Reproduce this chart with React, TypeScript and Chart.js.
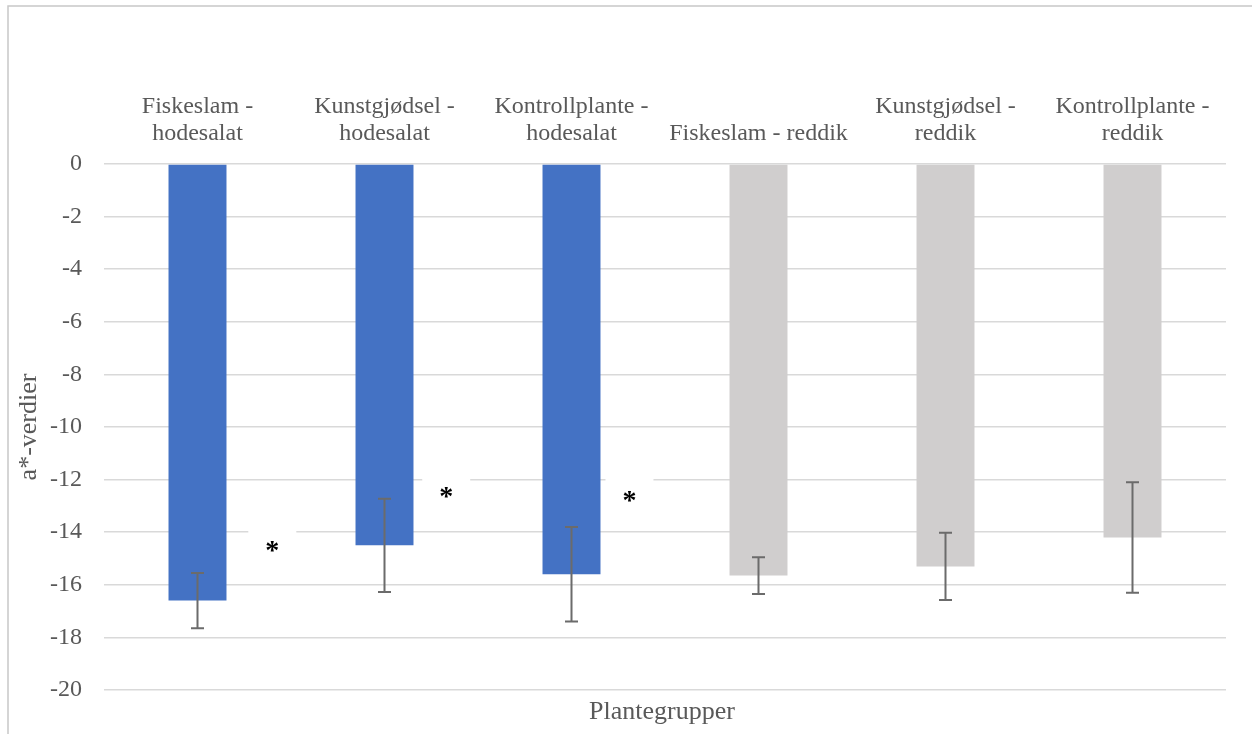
import React, { useEffect, useRef } from "react";
import { Chart, registerables } from "chart.js";

Chart.register(...registerables);

const categories: string[][] = [
  ["Fiskeslam -", "hodesalat"],
  ["Kunstgjødsel -", "hodesalat"],
  ["Kontrollplante -", "hodesalat"],
  ["Fiskeslam - reddik"],
  ["Kunstgjødsel -", "reddik"],
  ["Kontrollplante -", "reddik"],
];
const values: number[] = [-16.6, -14.5, -15.6, -15.65, -15.3, -14.2];
const errors: number[] = [1.05, 1.77, 1.8, 0.7, 1.28, 2.1];
const barColors: string[] = ["#4472C4", "#4472C4", "#4472C4", "#D0CECE", "#D0CECE", "#D0CECE"];
// significance markers: position as category index (fractional) and value
const sigX: number[] = [0.4, 1.33, 2.31];
const sigY: number[] = [-14.5, -12.47, -12.62];
const yTicks: number[] = [0, -2, -4, -6, -8, -10, -12, -14, -16, -18, -20];

const FONT = "'Liberation Serif', 'Times New Roman', serif";
const TEXT = "#595959";

const extrasPlugin = {
  id: "extras",
  beforeDatasetsDraw(chart: any) {
    const { ctx, scales } = chart;
    const x = scales.x;
    const y = scales.y;
    ctx.save();
    for (let i = 0; i < sigX.length; i++) {
      const x0 = x.getPixelForValue(Math.floor(sigX[i]));
      const x1 = x.getPixelForValue(Math.floor(sigX[i]) + 1);
      const px = x0 + (x1 - x0) * (sigX[i] - Math.floor(sigX[i]));
      const py = y.getPixelForValue(sigY[i]);
      ctx.fillStyle = "#ffffff";
      ctx.fillRect(px - 24, py - 26, 48, 46);
    }
    ctx.restore();
  },
  afterDatasetsDraw(chart: any) {
    const { ctx, scales, chartArea } = chart;
    const x = scales.x;
    const y = scales.y;
    ctx.save();
    // error bars
    ctx.strokeStyle = "#6b6b6b";
    ctx.lineWidth = 2;
    for (let i = 0; i < values.length; i++) {
      const px = x.getPixelForValue(i);
      const yt = y.getPixelForValue(values[i] + errors[i]);
      const yb = y.getPixelForValue(values[i] - errors[i]);
      ctx.beginPath();
      ctx.moveTo(px, yt);
      ctx.lineTo(px, yb);
      ctx.moveTo(px - 6.5, yt);
      ctx.lineTo(px + 6.5, yt);
      ctx.moveTo(px - 6.5, yb);
      ctx.lineTo(px + 6.5, yb);
      ctx.stroke();
    }
    // asterisks
    ctx.fillStyle = "#000000";
    ctx.font = `bold 28px ${FONT}`;
    ctx.textAlign = "center";
    ctx.textBaseline = "middle";
    for (let i = 0; i < sigX.length; i++) {
      const x0 = x.getPixelForValue(Math.floor(sigX[i]));
      const x1 = x.getPixelForValue(Math.floor(sigX[i]) + 1);
      const px = x0 + (x1 - x0) * (sigX[i] - Math.floor(sigX[i]));
      const py = y.getPixelForValue(sigY[i]);
      ctx.fillText("*", px, py + 6);
    }
    // bottom title
    ctx.fillStyle = TEXT;
    ctx.font = `26px ${FONT}`;
    ctx.fillText("Plantegrupper", (chartArea.left + chartArea.right) / 2 - 3, chartArea.bottom + 22);
    // frame
    ctx.strokeStyle = "#c8c8c8";
    ctx.lineWidth = 1.5;
    ctx.beginPath();
    ctx.moveTo(8, 740);
    ctx.lineTo(8, 6);
    ctx.lineTo(1252, 6);
    ctx.stroke();
    ctx.restore();
  },
};

export default function App() {
  const ref = useRef<HTMLCanvasElement | null>(null);
  useEffect(() => {
    if (!ref.current) return;
    const chart = new Chart(ref.current, {
      type: "bar",
      data: {
        labels: categories,
        datasets: [
          {
            data: values,
            backgroundColor: barColors,
            borderWidth: 0,
            barPercentage: 0.62,
            categoryPercentage: 0.5,
          },
        ],
      },
      options: {
        animation: false,
        responsive: false,
        maintainAspectRatio: false,
        layout: { padding: { left: 0, top: 0, right: 26, bottom: 44 } },
        plugins: {
          legend: { display: false },
          tooltip: { enabled: false },
        },
        scales: {
          x: {
            position: "top",
            grid: { display: false, drawTicks: false },
            border: { display: false },
            ticks: {
              color: TEXT,
              font: { family: FONT, size: 24, lineHeight: "27px" as any },
              padding: 17,
              maxRotation: 0,
              autoSkip: false,
            },
            afterFit: (axis: any) => {
              axis.height = 164;
            },
          },
          y: {
            min: -20,
            max: 0,
            afterBuildTicks: (axis: any) => {
              axis.ticks = yTicks.map((v) => ({ value: v }));
            },
            grid: { color: "#d9d9d9", lineWidth: 1.5, drawTicks: false },
            border: { display: false },
            ticks: {
              color: TEXT,
              font: { family: FONT, size: 24 },
              padding: 22,
            },
            title: {
              display: true,
              text: "a*-verdier",
              color: TEXT,
              font: { family: FONT, size: 26 },
              padding: { top: 14, bottom: 0 },
            },
            afterFit: (axis: any) => {
              axis.width = 104;
            },
          },
        },
      },
      plugins: [extrasPlugin],
    });
    return () => chart.destroy();
  }, []);
  return (
    <div style={{ position: "fixed", left: 0, top: 0, width: 1252, height: 734, background: "#fff" }}>
      <canvas ref={ref} width={1252} height={734} style={{ width: 1252, height: 734, display: "block" }} />
    </div>
  );
}
